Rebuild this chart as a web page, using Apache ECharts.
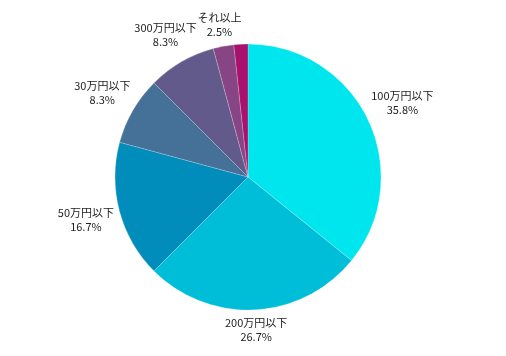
<!DOCTYPE html>
<html>
<head>
<meta charset="utf-8">
<script src="https://cdn.jsdelivr.net/npm/echarts@6/dist/echarts.min.js"></script>
<style>html,body{margin:0;padding:0;background:#fff}#c{width:506px;height:356px}</style>
</head>
<body>
<div id="c"></div>
<script>
const categories = ['100万円以下', '200万円以下', '50万円以下', '30万円以下', '300万円以下', 'それ以上', ''];
const percents = [35.8, 26.7, 16.7, 8.3, 8.3, 2.5, 1.7];
const colors = ['#00E6EE', '#00BED8', '#008DBB', '#457098', '#635A8C', '#884585', '#A6126D'];

const CX = 248, CY = 177, R = 133, GAP = 4;
const total = percents.reduce((a, b) => a + b, 0);
const cum = [];
percents.reduce((acc, v, i) => { cum[i] = acc; return acc + v; }, 0);

const chart = echarts.init(document.getElementById('c'), null, {renderer: 'canvas'});
chart.setOption({
  animation: false,
  series: [{
    type: 'pie',
    center: [CX, CY],
    radius: R,
    startAngle: 90,
    clockwise: true,
    avoidLabelOverlap: false,
    itemStyle: { borderColor: 'rgba(255,255,255,0.35)', borderWidth: 0.6 },
    label: {
      show: true,
      position: 'outside',
      color: '#222',
      fontSize: 11,
      lineHeight: 14,
      fontFamily: '"Noto Sans CJK JP", sans-serif',
      align: 'center',
      formatter: p => p.name + '\n' + p.value.toFixed(1) + '%'
    },
    labelLine: { show: false },
    labelLayout: function (p) {
      const i = p.dataIndex;
      const a = (90 - (cum[i] + percents[i] / 2) / total * 360) * Math.PI / 180;
      const dx = Math.cos(a), dy = -Math.sin(a);
      const w = p.labelRect.width, h = p.labelRect.height;
      const d = R + GAP + (w / 2) * Math.abs(dx) + (h / 2) * Math.abs(dy);
      return { x: CX + dx * d, y: CY + dy * d, align: 'center', verticalAlign: 'middle' };
    },
    data: categories.map((c, i) => ({
      name: c,
      value: percents[i],
      itemStyle: { color: colors[i] },
      label: { show: c !== '' }
    }))
  }]
});
</script>
</body>
</html>
